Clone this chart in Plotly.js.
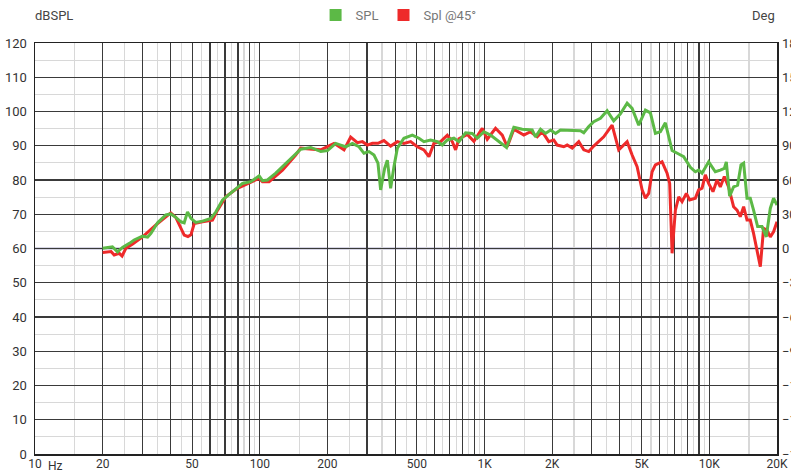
<!DOCTYPE html>
<html>
<head>
<meta charset="utf-8">
<script src="https://cdn.plot.ly/plotly-3.0.1.min.js"></script>
<style>
  html, body { margin: 0; padding: 0; background: #ffffff; }
  #chart { width: 791px; height: 474px; }
</style>
</head>
<body>
<div id="chart"></div>
<script>
// ---- Data (frequency in Hz, level in dB SPL) ----
const freqSPL = [20.0, 22.1, 23.3, 24.5, 26.3, 27.6, 30.1, 31.7, 32.8, 35.1, 38.2, 40.2, 42.3, 44.6, 46.1, 47.7, 49.4, 51.9, 55.6, 60.6,
  63.8, 68.3, 73.1, 79.6, 83.8, 91.2, 99.3, 102.8, 108.2, 117.8, 130.5, 144.5, 152.1, 168.6, 186.7, 200, 217.7, 229.1, 241.2, 258.2,
  276.3, 290.8, 306.1, 322.2, 335.6, 344.9, 359.3, 369.4, 382.1, 395.3, 409.3, 437.8, 477.1, 510.5, 537.3, 575.4, 616.2, 648.6, 682.7, 730.5,
  768.8, 823.3, 881.7, 928.1, 993, 1063, 1139, 1253, 1350, 1471, 1629, 1685, 1774, 1867, 1966, 2069, 2177, 2412, 2672, 2763,
  2908, 3060, 3278, 3511, 3755, 4022, 4308, 4534, 4851, 5195, 5468, 5754, 6056, 6374, 6828, 7307, 7690, 8234, 8666, 8962,
  9280, 9929, 10630, 11190, 11660, 11900, 12310, 12820, 13360, 13830, 14210, 14710, 15210, 15730, 16400, 17150, 17920, 18670, 19310, 20000];
const splDb = [60.1, 60.5, 59.0, 60.3, 61.5, 62.5, 63.6, 63.3, 64.4, 67.5, 69.8, 70.1, 69.1, 67.8, 67.5, 70.7, 68.8, 67.6, 68.0, 68.8,
  70.7, 74.2, 75.8, 77.8, 79.0, 79.5, 81.2, 79.8, 80.0, 82.0, 84.9, 87.8, 89.0, 89.5, 88.3, 88.6, 90.7, 90.2, 89.7, 90.7,
  89.7, 87.8, 88.3, 87.3, 84.9, 77.1, 83.4, 85.8, 77.6, 83.9, 89.3, 92.2, 93.1, 92.2, 91.2, 91.7, 91.2, 90.2, 91.7, 92.2,
  91.2, 93.8, 93.6, 92.2, 94.1, 93.1, 91.7, 89.5, 95.4, 94.8, 94.6, 92.6, 94.8, 93.6, 94.6, 93.6, 94.6, 94.4, 94.4, 93.8,
  95.6, 97.0, 98.0, 100.2, 97.3, 99.3, 102.4, 100.9, 96.0, 100.4, 99.6, 93.6, 94.1, 96.7, 88.6, 87.6, 86.8, 83.7, 82.4, 82.9,
  82.0, 85.3, 82.4, 82.9, 83.4, 85.3, 75.3, 78.0, 78.5, 84.4, 84.9, 74.7, 74.7, 71.2, 66.4, 66.4, 63.4, 71.7, 74.7, 72.7];

const freq45 = [20.0, 21.8, 22.5, 23.7, 24.4, 25.4, 27.2, 30.1, 32.8, 35.1, 40.2, 42.3, 46.1, 47.9, 49.4, 51.1, 55.6, 61.6, 64.9, 70.6,
  78.2, 89.6, 99.3, 102.8, 110, 126.2, 144.5, 152.1, 168.6, 186.7, 213.9, 237, 253.7, 271.8, 286.1, 301.1, 316.9, 335.6, 356.7, 382.1,
  409.3, 437.8, 469, 502.1, 537.3, 565.5, 595.2, 637.5, 682.7, 718.6, 743.3, 768.8, 837.7, 896.5, 976.8, 1028, 1119, 1199, 1262, 1350,
  1495, 1601, 1715, 1805, 1931, 2032, 2104, 2251, 2331, 2454, 2625, 2763, 2908, 3060, 3390, 3694, 3953, 4308, 4534, 4772,
  5022, 5195, 5373, 5563, 5754, 6162, 6486, 6661, 6828, 7063, 7307, 7564, 7904, 8174, 8666, 8962, 9280, 9600, 9929, 10380,
  10820, 11190, 11660, 12180, 12820, 13280, 13730, 14210, 14710, 15210, 15730, 16400, 16860, 17430, 18050, 18670, 19310, 20000];
const spl45Db = [58.8, 59.1, 58.1, 58.6, 57.8, 60.1, 61.3, 63.4, 65.6, 67.3, 70.4, 69.1, 63.9, 63.5, 64.0, 67.3, 67.8, 68.3, 71.2, 75.1,
  77.3, 79.0, 80.5, 79.5, 79.5, 82.9, 87.3, 89.3, 89.0, 88.8, 90.7, 88.8, 92.5, 90.9, 91.2, 90.2, 90.7, 90.7, 91.5, 89.9,
  91.2, 90.7, 91.2, 89.7, 88.8, 86.8, 90.7, 91.2, 93.1, 91.2, 88.8, 92.0, 93.3, 91.3, 95.1, 91.9, 95.1, 93.1, 89.7, 94.8,
  93.1, 94.1, 92.6, 94.1, 91.2, 91.7, 90.2, 89.7, 90.2, 89.3, 91.2, 88.8, 88.3, 89.9, 92.6, 96.0, 88.8, 91.2, 87.3, 83.9,
  77.1, 74.7, 76.1, 82.4, 84.4, 85.3, 82.0, 79.0, 58.6, 71.2, 75.1, 73.7, 76.1, 74.2, 74.7, 77.1, 77.6, 81.5, 79.0, 76.6,
  80.0, 78.0, 81.0, 78.0, 72.2, 71.2, 69.3, 72.2, 68.3, 68.3, 64.4, 58.6, 54.7, 65.9, 65.4, 63.4, 64.9, 67.8];

// ---- Tick / grid positions and labels ----
const xMajorGrid = [10, 20, 30, 40, 50, 60, 70, 80, 90, 100, 200, 300, 400, 500, 600, 700, 800, 900,
  1000, 2000, 3000, 4000, 5000, 6000, 7000, 8000, 9000, 10000, 20000];
const xMajorText = ['10', '20', '', '', '50', '', '', '', '', '100', '200', '', '', '500', '', '', '', '',
  '1K', '2K', '', '', '5K', '', '', '', '', '10K', '20K'];
const xMinorGrid = [15, 25, 35, 45, 55, 65, 75, 85, 95, 150, 250, 350, 450, 550, 650, 750, 850, 950,
  1500, 2500, 3500, 4500, 5500, 6500, 7500, 8500, 9500, 15000];
const dbTicks = [0, 10, 20, 30, 40, 50, 60, 70, 80, 90, 100, 110, 120];
const dbMinor = [5, 15, 25, 35, 45, 55, 65, 75, 85, 95, 105, 115];
const degTicks = [-180, -150, -120, -90, -60, -30, 0, 30, 60, 90, 120, 150, 180];
const seriesNames = ['SPL', 'Spl @45°'];
const seriesColors = ['#5cb946', '#ee2a2a'];

const font = 'Roboto, "Liberation Sans", Arial, sans-serif';

const traces = [
  // legend proxies (square swatches, no points)
  { type: 'scatter', mode: 'markers', x: [null], y: [null], name: seriesNames[0],
    marker: { color: seriesColors[0], symbol: 'square', size: 12 }, showlegend: true, hoverinfo: 'skip' },
  { type: 'scatter', mode: 'markers', x: [null], y: [null], name: seriesNames[1],
    marker: { color: seriesColors[1], symbol: 'square', size: 12 }, showlegend: true, hoverinfo: 'skip' },
  // curves (red under green)
  { type: 'scatter', mode: 'lines', x: freq45, y: spl45Db, name: seriesNames[1], showlegend: false,
    line: { color: seriesColors[1], width: 3 } },
  { type: 'scatter', mode: 'lines', x: freqSPL, y: splDb, name: seriesNames[0], showlegend: false,
    line: { color: seriesColors[0], width: 3 } },
  // right-hand phase axis carrier
  { type: 'scatter', mode: 'lines', x: [], y: [], yaxis: 'y2', showlegend: false, hoverinfo: 'skip' }
];

const layout = {
  width: 791, height: 474,
  margin: { l: 35, r: 14, t: 43, b: 20, pad: 0 },
  paper_bgcolor: '#ffffff', plot_bgcolor: '#ffffff',
  font: { family: font, size: 13, color: '#333333' },
  showlegend: true,
  legend: { orientation: 'h', xref: 'paper', x: 0.49, xanchor: 'center', yref: 'container', y: 0.968, yanchor: 'middle',
    font: { family: font, size: 13, color: '#777777' }, bgcolor: 'rgba(0,0,0,0)', traceorder: 'normal',
    itemwidth: 30, tracegroupgap: 0 },
  xaxis: {
    type: 'log', range: [1, Math.log10(20000)],
    tickmode: 'array', tickvals: xMajorGrid, ticktext: xMajorText,
    showgrid: true, gridcolor: '#3a3a3a', gridwidth: 1.2,
    minor: { tickmode: 'array', tickvals: xMinorGrid, showgrid: true, gridcolor: '#d8d8d8', gridwidth: 1.2, ticks: '' },
    ticks: '', showline: true, mirror: true, linecolor: '#222222', linewidth: 1.5,
    zeroline: false, tickfont: { family: font, size: 12, color: '#333333' }, ticklabelstandoff: -2
  },
  yaxis: {
    range: [0, 120], tickmode: 'array', tickvals: dbTicks,
    showgrid: true, gridcolor: '#3a3a3a', gridwidth: 1.2,
    minor: { tickmode: 'array', tickvals: dbMinor, showgrid: true, gridcolor: '#d8d8d8', gridwidth: 1.2, ticks: '' },
    ticks: '', showline: true, mirror: true, linecolor: '#222222', linewidth: 1.5,
    zeroline: false, tickfont: { family: font, size: 13, color: '#333333' }, ticklabelstandoff: 4
  },
  yaxis2: {
    overlaying: 'y', side: 'right', range: [-180, 180], tickmode: 'array', tickvals: degTicks,
    showgrid: false, zeroline: false, ticks: '', showline: false,
    tickfont: { family: font, size: 13, color: '#333333' }, ticklabelstandoff: 4
  },
  shapes: [
    { type: 'line', xref: 'paper', x0: 0, x1: 1, yref: 'y', y0: 60, y1: 60, layer: 'between',
      line: { color: '#aeacc9', width: 2 } }
  ],
  annotations: [
    { text: 'dBSPL', xref: 'paper', yref: 'paper', x: -0.003, y: 1.068, xanchor: 'left', yanchor: 'middle',
      showarrow: false, font: { family: font, size: 13, color: '#444444' } },
    { text: 'Deg', xref: 'paper', yref: 'paper', x: 1.0, y: 1.068, xanchor: 'right', yanchor: 'middle',
      showarrow: false, font: { family: font, size: 13, color: '#444444' } },
    { text: 'Hz', xref: 'paper', yref: 'paper', x: 0.027, y: -0.03, xanchor: 'center', yanchor: 'middle',
      showarrow: false, font: { family: font, size: 12, color: '#333333' } }
  ]
};

Plotly.newPlot('chart', traces, layout, { staticPlot: true, displayModeBar: false });
</script>
</body>
</html>
